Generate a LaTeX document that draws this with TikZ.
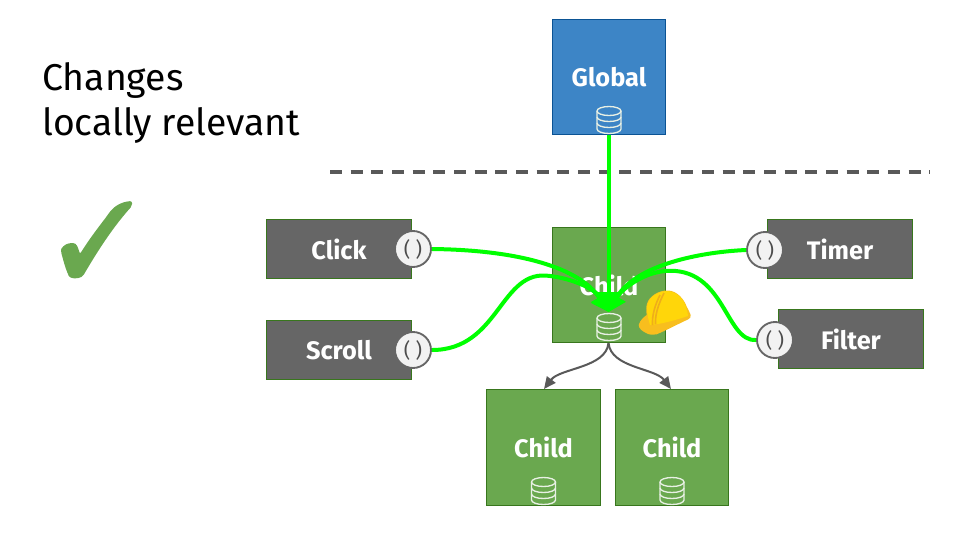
\documentclass[tikz,border=0pt]{standalone}
\usepackage{fontspec}
\setmainfont{Fira Sans}
\usetikzlibrary{arrows.meta}
\definecolor{grn}{HTML}{6AA84F}
\definecolor{grnd}{HTML}{38761D}
\definecolor{blu}{HTML}{3D85C6}
\definecolor{blud}{HTML}{0B5394}
\definecolor{gry}{HTML}{666666}
\definecolor{gryd}{HTML}{595959}
\definecolor{wire}{HTML}{00FF00}
\definecolor{capfill}{HTML}{FFD60A}
\definecolor{capdark}{HTML}{F8BE1E}
\definecolor{capline}{HTML}{EFAE1A}
\definecolor{iconline}{HTML}{E8F0E4}
\tikzset{
  x=0.75pt,y=-0.75pt,
  box/.style={draw=grnd,fill=grn,line width=0.75pt,minimum width=85pt,minimum height=86.5pt,inner sep=0pt,text=white,font=\fontsize{19}{22}\selectfont\bfseries},
  bluebox/.style={box,draw=blud,fill=blu},
  src/.style={draw=grnd,fill=gry,line width=0.75pt,minimum width=109pt,minimum height=44.5pt,inner sep=0pt,text=white,font=\fontsize{19}{22}\selectfont\bfseries},
  port/.style={circle,draw=gry,fill=black!5,line width=1.4pt,minimum size=27pt,inner sep=0pt,text=black!70,font=\fontsize{15}{17}\selectfont},
  signal/.style={draw=wire,line width=3pt,-{Triangle[length=13pt,width=14pt]}},
  mainsignal/.style={draw=wire,line width=3pt,-{Triangle[length=15pt,width=21pt]}},
  tree/.style={draw=gryd,line width=1.5pt,-{Triangle[length=9pt,width=8pt]}},
  title/.style={font=\fontsize{28}{33.7}\selectfont,align=left,anchor=north west,inner sep=0pt,text=black},
  pics/dbicon/.style={code={
    \draw[iconline,line width=1pt] (0,-9) ellipse[x radius=12,y radius=4.5];
    \draw[iconline,line width=1pt] (-12,-9) -- (-12,9) arc[start angle=180,end angle=0,x radius=12,y radius=4.5] -- (12,-9);
    \draw[iconline,line width=1pt] (-12,-3) arc[start angle=180,end angle=0,x radius=12,y radius=4.5];
    \draw[iconline,line width=1pt] (-12,3) arc[start angle=180,end angle=0,x radius=12,y radius=4.5];
  }}
}
\begin{document}
\begin{tikzpicture}
\useasboundingbox (0,0) rectangle (960,540);
\node[title] (heading) at (42,62) {Changes\\locally relevant};
% check mark
\fill[grn,rounded corners=1.5pt] (132,201) .. controls (120,202) and (113,207) .. (107,216) .. controls (97,229) and (88,241) .. (80,254) .. controls (78,248) and (77,243) .. (71,243) .. controls (65,244) and (61,248) .. (61,252) .. controls (63,259) and (65,267) .. (68,274) .. controls (70,279) and (78,279) .. (83,276) .. controls (97,252) and (113,227) .. (132,206) -- cycle;
\draw[gryd,line width=2.6pt,dash pattern=on 9pt off 6.5pt] (330,172) -- (930,172);
% boxes
\node[bluebox] (global) at (609,77) {Global};
\node[box] (child) at (609,285) {Child};
\node[box] (childa) at (543.5,447.5) {Child};
\node[box] (childb) at (672,447.5) {Child};
\pic at (609,120) {dbicon};
\pic at (609,327) {dbicon};
\pic at (543.5,491) {dbicon};
\pic at (672,491) {dbicon};
% sources
\node[src] (click) at (339,249) {Click};
\node[src] (scroll) at (339,350) {Scroll};
\node[src] (timer) at (840,249) {Timer};
\node[src] (filter) at (851,339) {Filter};
\node[port] (pclick) at (413,249) {( )};
\node[port] (pscroll) at (413,350) {( )};
\node[port] (ptimer) at (765,250) {( )};
\node[port] (pfilter) at (775,340) {( )};
\coordinate (sink) at (608.5,312);
\coordinate (fork) at (608.5,343);
% hat
\fill[capdark] (638.7,325) .. controls (640,320) and (644,317) .. (646.7,315) .. controls (646,310) and (646,306) .. (647.3,303) .. controls (649,297) and (658,290) .. (668.3,290.5) .. controls (677,291) and (684,299) .. (686.7,306.7) .. controls (688,310) and (690,312) .. (690.7,315) .. controls (691,317) and (690,318.5) .. (688.3,319.3) .. controls (678,324) and (667,330) .. (656.7,334.3) .. controls (652,335) and (648,334.5) .. (646.7,333.3) .. controls (642,331) and (639,329) .. (638.7,325) -- cycle;
\fill[capfill] (650,325) .. controls (647,315) and (646,306) .. (648,303) .. controls (650,297) and (658,291) .. (668,291) .. controls (677,292) and (684,299) .. (686,307) .. controls (687,310) and (688,313) .. (688,316) .. controls (676,320) and (662,324) .. (650,325) -- cycle;
\draw[capline,line width=1.2pt] (660,295) .. controls (655,305) and (652,315) .. (652.5,325);
\draw[capline,line width=1.2pt] (664,293) .. controls (658,305) and (655,315) .. (655.5,324);
% wires
\draw[mainsignal] (global.south -| sink) -- (sink);
\draw[signal] (pclick.east) .. controls (520,250) and (580,268) .. (sink);
\draw[signal] (pscroll.east) .. controls (500,350) and (500,268) .. (550,276) .. controls (575,279) and (596,290) .. (sink);
\draw[signal] (ptimer.west) .. controls (700,252) and (635,265) .. (sink);
\draw[signal] (pfilter.west) .. controls (725,342) and (725,266) .. (665,271) .. controls (642,273) and (621,290) .. (sink);
\draw[tree] (fork) .. controls (606,368) and (560,368) .. (544,389);
\draw[tree] (fork) .. controls (611,368) and (655,368) .. (671,389);
\end{tikzpicture}
\end{document}
